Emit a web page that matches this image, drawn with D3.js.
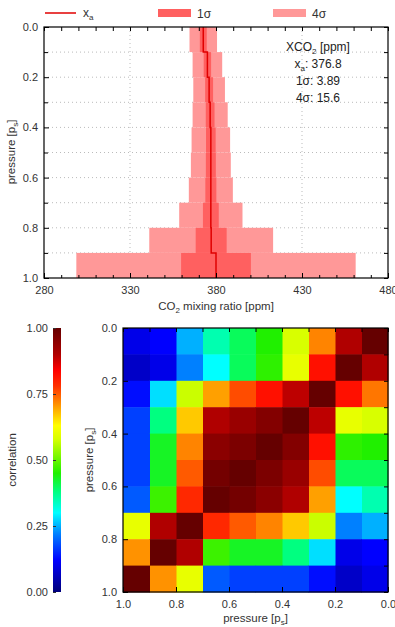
<!DOCTYPE html>
<html>
<head>
<meta charset="utf-8">
<style>
  body { margin: 0; background: #fff; }
  svg { font-family: "Liberation Sans", Arial, sans-serif; }
  .tick text { fill: #333; font-size: 11px; }
</style>
</head>
<body>
<script src="https://cdn.jsdelivr.net/npm/d3@7"></script>
<script>
// layers in pressure units (top of each layer)
var layerTop = [0.0, 0.1, 0.2, 0.3, 0.4, 0.5, 0.6, 0.7, 0.8, 0.9];
// a priori CO2 per layer [ppm]
var xa = [372.6, 375.0, 376.0, 376.6, 377.0, 377.0, 377.0, 377.0, 377.2, 380.0];
// 1 sigma per layer [ppm]
var sigma = [2.0, 2.15, 2.3, 2.55, 2.8, 2.9, 3.2, 4.6, 9.0, 20.3];
var xTicks = [280, 330, 380, 430, 480];
var pTicks = [0.0, 0.2, 0.4, 0.6, 0.8, 1.0];
var cbTicks = [0.00, 0.25, 0.50, 0.75, 1.00];
var infoLines = ["XCO2 [ppm]", "xa: 376.8", "1σ: 3.89", "4σ: 15.6"];

// correlation matrix, row = layer index, column = layer index
var corr0 = [1.00, 0.90, 0.72, 0.58, 0.45, 0.40, 0.35, 0.25, 0.12, 0.10];
var corr1 = [0.90, 1.00, 0.82, 0.60, 0.46, 0.40, 0.30, 0.22, 0.10, 0.07];
var corr2 = [0.73, 0.82, 1.00, 0.89, 0.82, 0.76, 0.70, 0.57, 0.28, 0.13];
var corr3 = [0.58, 0.60, 0.89, 1.00, 0.96, 0.93, 0.90, 0.67, 0.38, 0.17];
var corr4 = [0.45, 0.46, 0.82, 0.96, 1.00, 0.97, 0.95, 0.72, 0.43, 0.17];
var corr5 = [0.40, 0.40, 0.76, 0.93, 0.97, 1.00, 0.98, 0.75, 0.43, 0.17];
var corr6 = [0.35, 0.30, 0.70, 0.90, 0.95, 0.98, 1.00, 0.79, 0.47, 0.19];
var corr7 = [0.25, 0.22, 0.57, 0.67, 0.72, 0.75, 0.79, 1.00, 0.90, 0.60];
var corr8 = [0.12, 0.10, 0.28, 0.38, 0.43, 0.43, 0.47, 0.90, 1.00, 0.71];
var corr9 = [0.10, 0.07, 0.13, 0.17, 0.17, 0.17, 0.19, 0.60, 0.71, 1.00];
var corr = [corr0, corr1, corr2, corr3, corr4, corr5, corr6, corr7, corr8, corr9];

var svg = d3.select("body").append("svg").attr("width", 395).attr("height", 627);

// ---------- top panel ----------
var L = 44, R = 388, T = 27, B = 278;
var x = d3.scaleLinear().domain([280, 480]).range([L, R]);
var y = d3.scaleLinear().domain([0, 1]).range([T, B]);

// grid
var grid = svg.append("g").attr("stroke", "#bbb").attr("stroke-dasharray", "1,3").attr("stroke-width", 1);
[330, 380, 430].forEach(function(v) {
  grid.append("line").attr("x1", x(v)).attr("x2", x(v)).attr("y1", T).attr("y2", B);
});
d3.range(1, 10).forEach(function(k) {
  grid.append("line").attr("x1", L).attr("x2", R).attr("y1", y(k / 10)).attr("y2", y(k / 10));
});

var layers = layerTop.map(function(p, i) { return {p: p, xa: xa[i], s: sigma[i]}; });

// 4 sigma bands
svg.append("g").selectAll("rect").data(layers).enter().append("rect")
  .attr("x", function(d) { return x(d.xa - 4 * d.s); })
  .attr("width", function(d) { return x(d.xa + 4 * d.s) - x(d.xa - 4 * d.s); })
  .attr("y", function(d) { return y(d.p); })
  .attr("height", function(d) { return y(d.p + 0.1) - y(d.p); })
  .attr("fill", "#ff9898");
// 1 sigma bands
svg.append("g").selectAll("rect").data(layers).enter().append("rect")
  .attr("x", function(d) { return x(d.xa - d.s); })
  .attr("width", function(d) { return x(d.xa + d.s) - x(d.xa - d.s); })
  .attr("y", function(d) { return y(d.p); })
  .attr("height", function(d) { return y(d.p + 0.1) - y(d.p); })
  .attr("fill", "#ff6060");
// a priori line
var pts = [];
layers.forEach(function(d) { pts.push([d.xa, d.p]); pts.push([d.xa, d.p + 0.1]); });
svg.append("path").datum(pts)
  .attr("d", d3.line().x(function(d) { return x(d[0]); }).y(function(d) { return y(d[1]); }))
  .attr("fill", "none").attr("stroke", "#e00000").attr("stroke-width", 1.5);

// axes
svg.append("g").attr("transform", "translate(0," + B + ")")
  .call(d3.axisBottom(x).tickValues(xTicks).tickSize(-5).tickPadding(8).tickFormat(d3.format("d")))
  .call(function(g) { g.select(".domain").remove(); });
svg.append("g").attr("transform", "translate(0," + B + ")")
  .call(d3.axisBottom(x).tickValues(d3.range(290, 480, 10)).tickSize(-3).tickFormat(""))
  .call(function(g) { g.select(".domain").remove(); });
svg.append("g").attr("transform", "translate(0," + T + ")")
  .call(d3.axisTop(x).tickValues(d3.range(280, 481, 10)).tickSize(-4).tickFormat(""))
  .call(function(g) { g.select(".domain").remove(); });
svg.append("g").attr("transform", "translate(" + L + ",0)")
  .call(d3.axisLeft(y).tickValues(pTicks).tickSize(-5).tickPadding(6).tickFormat(d3.format(".1f")))
  .call(function(g) { g.select(".domain").remove(); });
svg.append("g").attr("transform", "translate(" + L + ",0)")
  .call(d3.axisLeft(y).tickValues([0.1, 0.3, 0.5, 0.7, 0.9]).tickSize(-4).tickFormat(""))
  .call(function(g) { g.select(".domain").remove(); });
svg.append("g").attr("transform", "translate(" + R + ",0)")
  .call(d3.axisRight(y).tickValues(d3.range(0, 1.01, 0.1)).tickSize(-4).tickFormat(""))
  .call(function(g) { g.select(".domain").remove(); });
svg.append("rect").attr("x", L).attr("y", T).attr("width", R - L).attr("height", B - T)
  .attr("fill", "none").attr("stroke", "#000").attr("stroke-width", 1.2);

// labels
var xl = svg.append("text").attr("x", (L + R) / 2).attr("y", 310).attr("text-anchor", "middle")
  .attr("font-size", 11.5).attr("fill", "#333");
xl.append("tspan").text("CO");
xl.append("tspan").attr("font-size", 8).attr("dy", 3).text("2");
xl.append("tspan").attr("dy", -3).text(" mixing ratio [ppm]");

function pLabel(cx, cy) {
  var t = svg.append("text").attr("transform", "translate(" + cx + "," + cy + ") rotate(-90)")
    .attr("text-anchor", "middle").attr("font-size", 11.5).attr("fill", "#333");
  t.append("tspan").text("pressure [p");
  t.append("tspan").attr("font-size", 8).attr("dy", 3).text("s");
  t.append("tspan").attr("dy", -3).text("]");
}
pLabel(15, 152);

// info box
var info = svg.append("g").attr("font-size", 12).attr("fill", "#222").attr("text-anchor", "middle");
var t0 = info.append("text").attr("x", 318).attr("y", 51);
t0.append("tspan").text("XCO");
t0.append("tspan").attr("font-size", 8).attr("dy", 3).text("2");
t0.append("tspan").attr("dy", -3).text(" [ppm]");
var t1 = info.append("text").attr("x", 318).attr("y", 68);
t1.append("tspan").text("x");
t1.append("tspan").attr("font-size", 8).attr("dy", 3).text("a");
t1.append("tspan").attr("dy", -3).text(": 376.8");
info.append("text").attr("x", 318).attr("y", 85).text(infoLines[2]);
info.append("text").attr("x", 318).attr("y", 102).text(infoLines[3]);

// legend
var lg = svg.append("g").attr("font-size", 12).attr("fill", "#333");
lg.append("line").attr("x1", 45).attr("x2", 76).attr("y1", 13).attr("y2", 13)
  .attr("stroke", "#e00000").attr("stroke-width", 1.5);
var lt = lg.append("text").attr("x", 83).attr("y", 17);
lt.append("tspan").text("x");
lt.append("tspan").attr("font-size", 8).attr("dy", 3).text("a");
lg.append("rect").attr("x", 158).attr("y", 9).attr("width", 33).attr("height", 8).attr("fill", "#ff6060");
lg.append("text").attr("x", 197).attr("y", 18).text("1σ");
lg.append("rect").attr("x", 273).attr("y", 9).attr("width", 33).attr("height", 8).attr("fill", "#ff9898");
lg.append("text").attr("x", 312).attr("y", 18).text("4σ");

// ---------- bottom panel ----------
var jet = d3.scaleLinear()
  .domain([0, 0.12, 0.22, 0.30, 0.38, 0.45, 0.58, 0.63, 0.70, 0.78, 0.84, 0.90, 1.0])
  .range(["#00007a", "#0000ff", "#0080ff", "#00ffff", "#00ff80", "#20f000", "#d8ff00",
          "#ffff00", "#ffa000", "#ff3000", "#ff0000", "#b00000", "#650000"])
  .interpolate(d3.interpolateRgb);

var HL = 123, HR = 388, HT = 328, HB = 592;
var hx = d3.scaleLinear().domain([1, 0]).range([HL, HR]);
var hy = d3.scaleLinear().domain([0, 1]).range([HT, HB]);

var cells = [];
corr.forEach(function(row, i) {
  row.forEach(function(v, j) { cells.push({pi: layerTop[i], pj: layerTop[j], v: v}); });
});
svg.append("g").selectAll("rect").data(cells).enter().append("rect")
  .attr("x", function(d) { return hx(d.pj + 0.1); })
  .attr("y", function(d) { return hy(d.pi); })
  .attr("width", function(d) { return hx(d.pj) - hx(d.pj + 0.1) + 0.5; })
  .attr("height", function(d) { return hy(d.pi + 0.1) - hy(d.pi) + 0.5; })
  .attr("fill", function(d) { return jet(d.v); });

svg.append("g").attr("transform", "translate(0," + HB + ")")
  .call(d3.axisBottom(hx).tickValues(pTicks).tickSize(-5).tickPadding(8).tickFormat(d3.format(".1f")))
  .call(function(g) { g.select(".domain").remove(); });
svg.append("g").attr("transform", "translate(0," + HT + ")")
  .call(d3.axisTop(hx).tickValues(d3.range(0, 1.01, 0.1)).tickSize(-4).tickFormat(""))
  .call(function(g) { g.select(".domain").remove(); });
svg.append("g").attr("transform", "translate(" + HL + ",0)")
  .call(d3.axisLeft(hy).tickValues(pTicks).tickSize(-5).tickPadding(6).tickFormat(d3.format(".1f")))
  .call(function(g) { g.select(".domain").remove(); });
svg.append("g").attr("transform", "translate(" + HR + ",0)")
  .call(d3.axisRight(hy).tickValues(d3.range(0, 1.01, 0.1)).tickSize(-4).tickFormat(""))
  .call(function(g) { g.select(".domain").remove(); });
svg.append("rect").attr("x", HL).attr("y", HT).attr("width", HR - HL).attr("height", HB - HT)
  .attr("fill", "none").attr("stroke", "#000").attr("stroke-width", 1.2);

var hxl = svg.append("text").attr("x", (HL + HR) / 2).attr("y", 622).attr("text-anchor", "middle")
  .attr("font-size", 11.5).attr("fill", "#333");
hxl.append("tspan").text("pressure [p");
hxl.append("tspan").attr("font-size", 8).attr("dy", 3).text("s");
hxl.append("tspan").attr("dy", -3).text("]");
pLabel(93, 460);

// colorbar
var cy = d3.scaleLinear().domain([0, 1]).range([HB, HT]);
var grad = svg.append("defs").append("linearGradient").attr("id", "cb")
  .attr("x1", 0).attr("y1", 1).attr("x2", 0).attr("y2", 0);
jet.domain().forEach(function(v) {
  grad.append("stop").attr("offset", v).attr("stop-color", jet(v));
});
svg.append("rect").attr("x", 53).attr("y", HT).attr("width", 8).attr("height", HB - HT)
  .attr("fill", "url(#cb)");
svg.append("g").attr("transform", "translate(53,0)")
  .call(d3.axisLeft(cy).tickValues(cbTicks).tickSize(-3).tickPadding(5).tickFormat(d3.format(".2f")))
  .call(function(g) { g.select(".domain").remove(); g.selectAll("line").attr("stroke", "#333"); });
svg.append("text").attr("transform", "translate(16,460) rotate(-90)").attr("text-anchor", "middle")
  .attr("font-size", 11.5).attr("fill", "#333").text("correlation");
</script>
</body>
</html>
